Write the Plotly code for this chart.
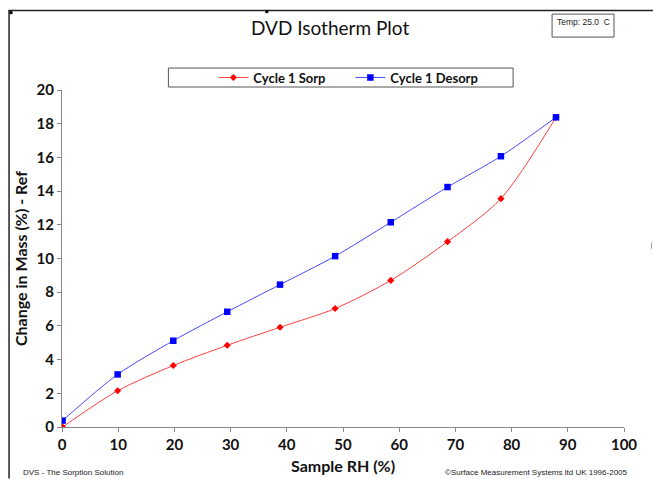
import plotly.graph_objects as go

# Sample relative humidity (%) at each equilibrium step
rh = [0.1, 9.9, 19.8, 29.4, 38.8, 48.6, 58.5, 68.6, 78.1, 87.9]
# Change in mass (%) relative to reference mass
sorp = [0.0, 2.15, 3.65, 4.85, 5.92, 7.03, 8.7, 11.0, 13.55, 18.38]
desorp = [0.38, 3.12, 5.12, 6.84, 8.45, 10.14, 12.15, 14.24, 16.07, 18.38]

x_ticks = [0, 10, 20, 30, 40, 50, 60, 70, 80, 90, 100]
y_ticks = [0, 2, 4, 6, 8, 10, 12, 14, 16, 18, 20]

W, H = 653, 479
ML, MR, MT, MB = 61.5, 29, 90, 51.5
PW, PH = W - ML - MR, H - MT - MB


def px(x):
    return (x - ML) / PW


def py(y):
    return (H - MB - y) / PH


FONT = "Lato"

fig = go.Figure()
fig.add_trace(go.Scatter(
    x=rh, y=sorp, name="Cycle 1 Sorp", mode="lines+markers",
    line=dict(color="#ff4040", width=1, shape="spline", smoothing=0.8),
    marker=dict(symbol="diamond", size=5.5, color="#ff0000"),
))
fig.add_trace(go.Scatter(
    x=rh, y=desorp, name="Cycle 1 Desorp", mode="lines+markers",
    line=dict(color="#4848ff", width=1, shape="spline", smoothing=0.8),
    marker=dict(symbol="square", size=6.5, color="#0000ff"),
))

axis_common = dict(
    showgrid=False, zeroline=False, showline=True, linecolor="#888888",
    linewidth=1, ticks="outside", ticklen=4, tickcolor="#888888",
    automargin=False,
    tickfont=dict(family=FONT, size=15, color="#111111", weight="bold"),
)
fig.update_xaxes(
    range=[0, 100], tickvals=x_ticks, ticktext=[str(v) for v in x_ticks],
    title=dict(text="Sample RH (%)", standoff=8,
               font=dict(family=FONT, size=16, color="#111111", weight="bold")),
    **axis_common,
)
fig.update_yaxes(
    range=[0, 20], tickvals=y_ticks, ticktext=[str(v) for v in y_ticks],
    title=dict(text="Change in Mass (%) - Ref", standoff=4,
               font=dict(family=FONT, size=16, color="#111111", weight="bold")),
    **axis_common,
)

shapes = [
    # outer frame (top and left edges)
    dict(type="line", xref="paper", yref="paper", x0=px(8), x1=px(W), y0=py(10.5), y1=py(10.5),
         line=dict(color="#222222", width=1.5)),
    dict(type="line", xref="paper", yref="paper", x0=px(8.5), x1=px(8.5), y0=py(10), y1=py(H),
         line=dict(color="#222222", width=1.5)),
    # selection handles
    dict(type="rect", xref="paper", yref="paper", x0=px(9), x1=px(12), y0=py(11), y1=py(14),
         fillcolor="#000000", line=dict(width=0)),
    dict(type="rect", xref="paper", yref="paper", x0=px(265), x1=px(268), y0=py(10), y1=py(13),
         fillcolor="#000000", line=dict(width=0)),
    dict(type="line", xref="paper", yref="paper", x0=px(651.5), x1=px(651.5), y0=py(243), y1=py(249),
         line=dict(color="#999999", width=1)),
    # temperature box
    dict(type="rect", xref="paper", yref="paper", x0=px(552), x1=px(614), y0=py(14), y1=py(37),
         line=dict(color="#555555", width=1), fillcolor="white"),
    # legend frame
    dict(type="rect", xref="paper", yref="paper", x0=px(168), x1=px(513), y0=py(68), y1=py(87),
         line=dict(color="#555555", width=1), fillcolor="white", layer="below"),
]

annotations = [
    dict(text="DVD Isotherm Plot", xref="paper", yref="paper", x=px(330), y=py(27),
         xanchor="center", yanchor="middle", showarrow=False,
         font=dict(family=FONT, size=19, color="#111111")),
    dict(text="Temp: 25.0\u00a0\u00a0C", xref="paper", yref="paper", x=px(555), y=py(15),
         xanchor="left", yanchor="top", showarrow=False,
         font=dict(family="Liberation Sans", size=8.5, color="#222222")),
    dict(text="DVS - The Sorption Solution", xref="paper", yref="paper", x=px(20), y=py(473),
         xanchor="left", yanchor="middle", showarrow=False,
         font=dict(family="Liberation Sans", size=8, color="#222222")),
    dict(text="©Surface Measurement Systems ltd UK 1996-2005", xref="paper", yref="paper",
         x=px(630), y=py(473), xanchor="right", yanchor="middle", showarrow=False,
         font=dict(family="Liberation Sans", size=8, color="#222222")),
]

fig.update_layout(
    width=W, height=H,
    margin=dict(l=ML, r=MR, t=MT, b=MB),
    paper_bgcolor="white", plot_bgcolor="white",
    shapes=shapes, annotations=annotations,
    showlegend=True,
    legend=dict(
        orientation="h", x=px(213), y=py(77.5), xanchor="left", yanchor="middle",
        bgcolor="rgba(0,0,0,0)", borderwidth=0,
        font=dict(family=FONT, size=13, color="#111111", weight="bold"),
        itemwidth=30, entrywidth=92, entrywidthmode="pixels",
    ),
)

fig.write_html("out.html")
